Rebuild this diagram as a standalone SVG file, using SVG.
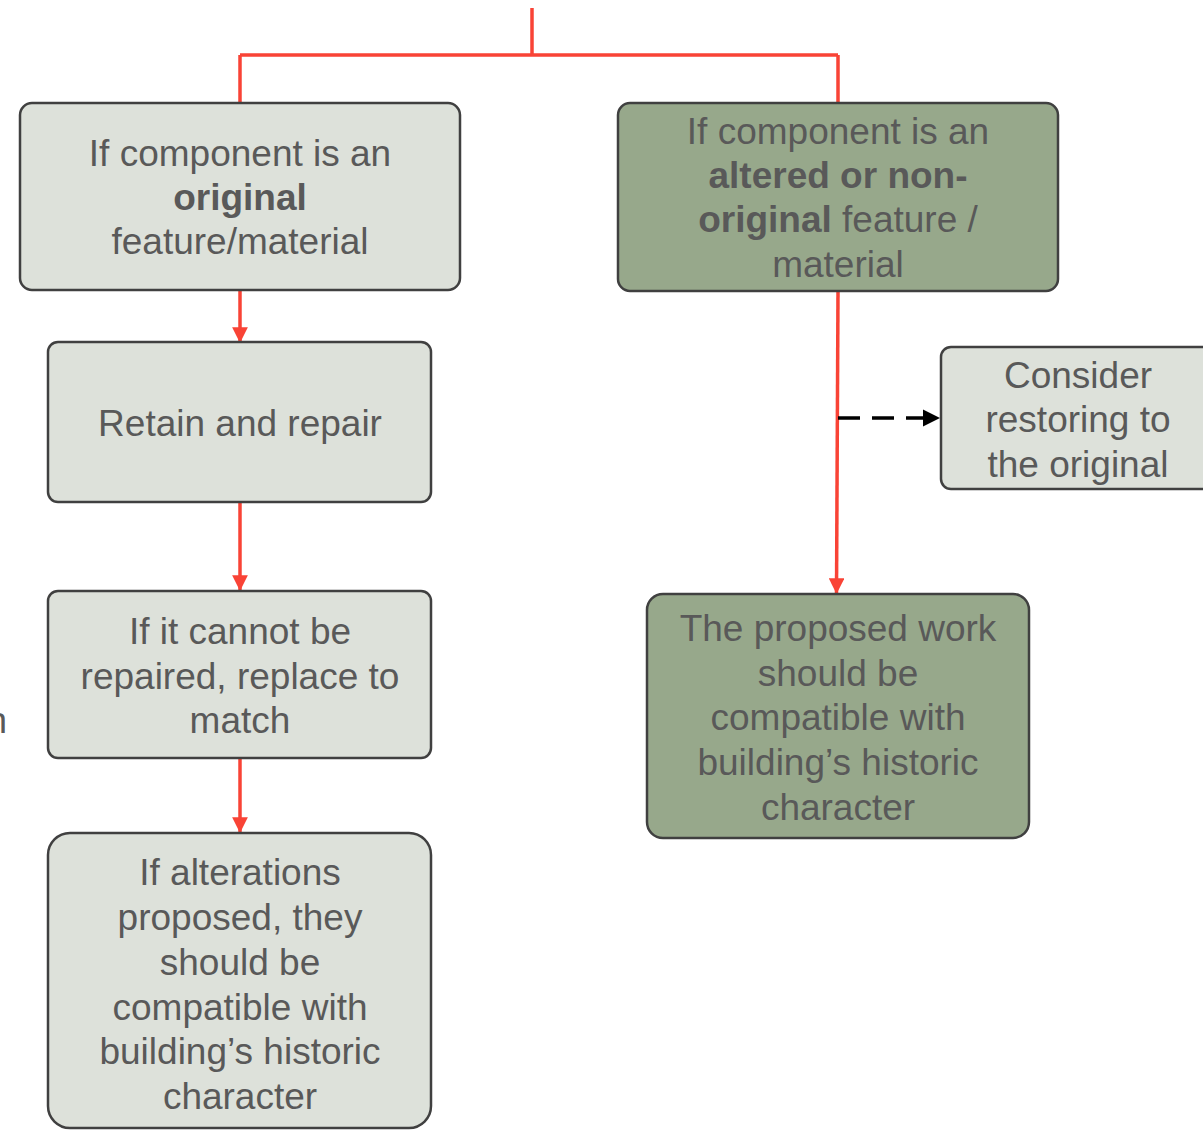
<svg xmlns="http://www.w3.org/2000/svg" width="1203" height="1130" viewBox="0 0 1203 1130">
<defs>
<style>
.box{stroke:#404040;stroke-width:2.5}
.light{fill:#dde1da}
.green{fill:#97a88b}
.t{font-family:"Liberation Sans",Arial,sans-serif;font-size:37px;fill:#595959;text-anchor:middle}
.b{font-weight:bold}
.red{stroke:#f94336;stroke-width:3.5;fill:none}
</style>
<marker id="ra" viewBox="0 0 10 10" refX="10" refY="5" markerWidth="4.5" markerHeight="4.5" markerUnits="strokeWidth" orient="auto">
<path d="M0,0 L10,5 L0,10 z" fill="#f94336"/>
</marker>
<marker id="ba" viewBox="0 0 10 10" refX="10" refY="5" markerWidth="5" markerHeight="5" markerUnits="strokeWidth" orient="auto">
<path d="M0,0 L10,5 L0,10 z" fill="#000"/>
</marker>
</defs>
<rect width="1203" height="1130" fill="#fff"/>
<g id="connectors">
<path class="red" d="M532,8 V55 M240,55 H838 M240,55 V103 M838,55 V103"/>
<line class="red" x1="240" y1="290" x2="240" y2="343" marker-end="url(#ra)"/>
<line class="red" x1="240" y1="502" x2="240" y2="591" marker-end="url(#ra)"/>
<line class="red" x1="240" y1="758" x2="240" y2="833" marker-end="url(#ra)"/>
<line class="red" x1="838" y1="291" x2="836.5" y2="594" marker-end="url(#ra)"/>
<line x1="838" y1="418" x2="940" y2="418" stroke="#000" stroke-width="3.5" stroke-dasharray="22,12" marker-end="url(#ba)"/>
</g>
<g id="n1">
<rect class="box light" x="20" y="103" width="440" height="187" rx="12"/>
<text class="t" x="240" y="166">If component is an</text>
<text class="t b" x="240" y="210">original</text>
<text class="t" x="240" y="254">feature/material</text>
</g>
<g id="n2">
<rect class="box green" x="618" y="103" width="440" height="188" rx="12"/>
<text class="t" x="838" y="144">If component is an</text>
<text class="t b" x="838" y="188">altered or non-</text>
<text class="t" x="838" y="232"><tspan class="b">original</tspan> feature /</text>
<text class="t" x="838" y="277">material</text>
</g>
<g id="n3">
<rect class="box light" x="48" y="342" width="383" height="160" rx="10"/>
<text class="t" x="240" y="436">Retain and repair</text>
</g>
<g id="n4">
<rect class="box light" x="48" y="591" width="383" height="167" rx="10"/>
<text class="t" x="240" y="644">If it cannot be</text>
<text class="t" x="240" y="689">repaired, replace to</text>
<text class="t" x="240" y="733">match</text>
</g>
<g id="n5">
<rect class="box light" x="48" y="833" width="383" height="295" rx="22"/>
<text class="t" x="240" y="885">If alterations</text>
<text class="t" x="240" y="930">proposed, they</text>
<text class="t" x="240" y="975">should be</text>
<text class="t" x="240" y="1020">compatible with</text>
<text class="t" x="240" y="1064">building’s historic</text>
<text class="t" x="240" y="1109">character</text>
</g>
<g id="n6">
<rect class="box light" x="941" y="347" width="290" height="142" rx="10"/>
<text class="t" x="1078" y="388">Consider</text>
<text class="t" x="1078" y="432">restoring to</text>
<text class="t" x="1078" y="477">the original</text>
</g>
<g id="n7">
<rect class="box green" x="647" y="594" width="382" height="244" rx="16"/>
<text class="t" x="838" y="641">The proposed work</text>
<text class="t" x="838" y="686">should be</text>
<text class="t" x="838" y="730">compatible with</text>
<text class="t" x="838" y="775">building’s historic</text>
<text class="t" x="838" y="820">character</text>
</g>
<text class="t" x="7" y="733" style="text-anchor:end">n</text>
</svg>
